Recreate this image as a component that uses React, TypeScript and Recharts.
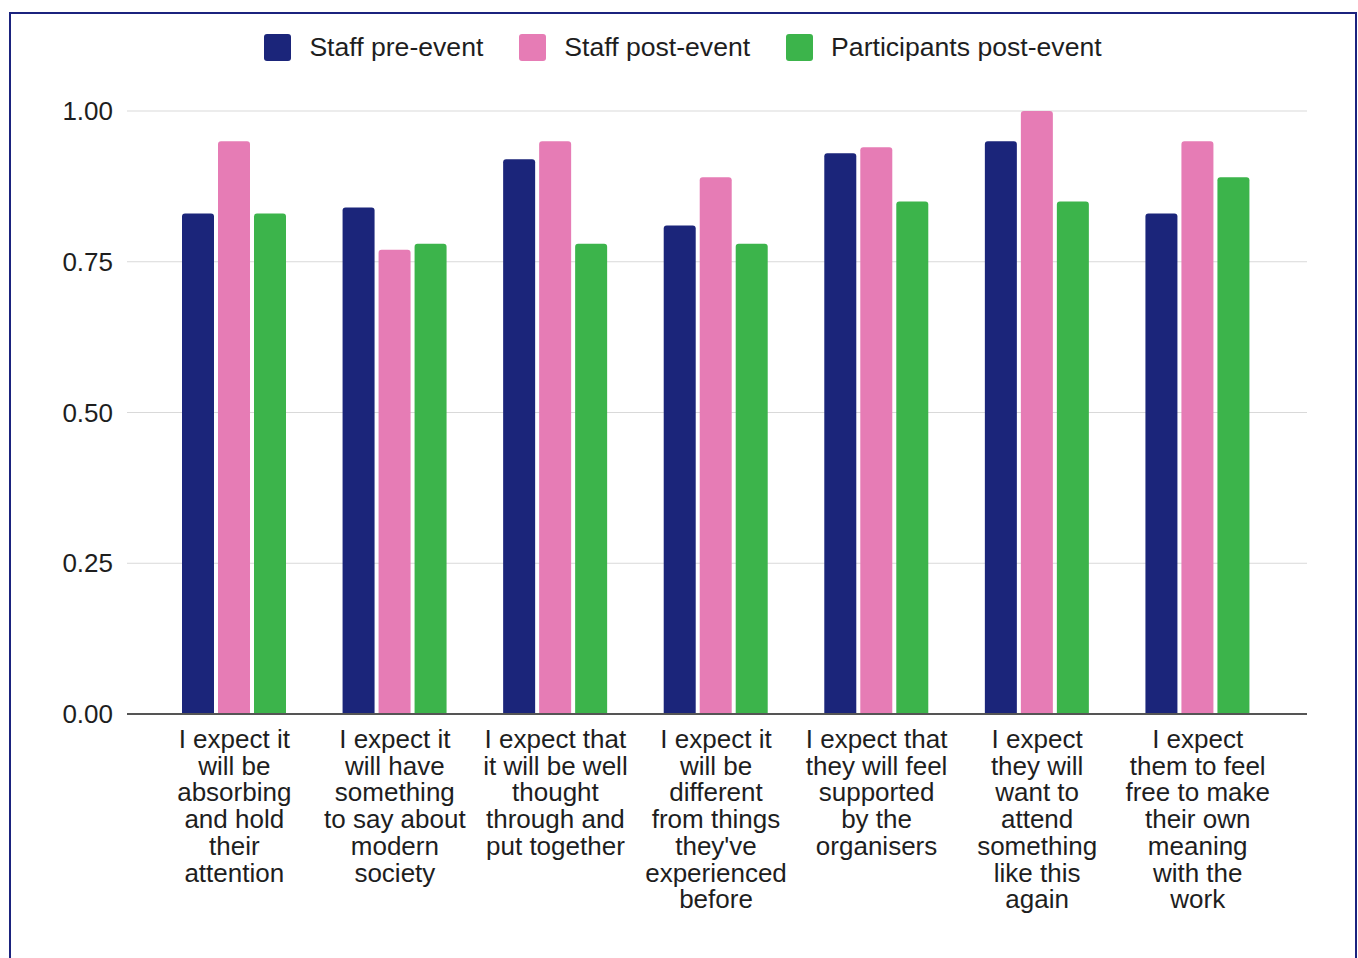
import { BarChart, Bar, XAxis, YAxis, CartesianGrid } from 'recharts';

const categories = [
  'I expect it\nwill be\nabsorbing\nand hold\ntheir\nattention',
  'I expect it\nwill have\nsomething\nto say about\nmodern\nsociety',
  'I expect that\nit will be well\nthought\nthrough and\nput together',
  "I expect it\nwill be\ndifferent\nfrom things\nthey've\nexperienced\nbefore",
  'I expect that\nthey will feel\nsupported\nby the\norganisers',
  'I expect\nthey will\nwant to\nattend\nsomething\nlike this\nagain',
  'I expect\nthem to feel\nfree to make\ntheir own\nmeaning\nwith the\nwork',
];
const staffPre = [0.83, 0.84, 0.92, 0.81, 0.93, 0.95, 0.83];
const staffPost = [0.95, 0.77, 0.95, 0.89, 0.94, 1.0, 0.95];
const participantsPost = [0.83, 0.78, 0.78, 0.78, 0.85, 0.85, 0.89];
const yTicks = [0, 0.25, 0.5, 0.75, 1];

const series = [
  { key: 'staffPre', name: 'Staff pre-event', color: '#1b257a' },
  { key: 'staffPost', name: 'Staff post-event', color: '#e67cb5' },
  { key: 'participantsPost', name: 'Participants post-event', color: '#3cb44b' },
];

const data = categories.map((c, i) => ({
  label: c,
  staffPre: staffPre[i],
  staffPost: staffPost[i],
  participantsPost: participantsPost[i],
}));

const FONT = '"Liberation Sans", Arial, sans-serif';

function XTick(props: any) {
  const { x, y, payload } = props;
  const lines = String(payload.value).split('\n');
  return (
    <text x={x} y={y + 34} textAnchor="middle" fill="#1e1e1e" fontSize={26} fontFamily={FONT}>
      {lines.map((l, i) => (
        <tspan key={i} x={x} dy={i === 0 ? 0 : 26.7}>{l}</tspan>
      ))}
    </text>
  );
}

export default function App() {
  return (
    <div style={{ position: 'absolute', left: 9, top: 12, width: 1348, height: 960, border: '2px solid #1b237e', boxSizing: 'border-box', background: '#fff' }}>
      <div style={{ position: 'absolute', left: 0, top: 19, width: 1344, height: 28, display: 'flex', justifyContent: 'center', alignItems: 'center', fontFamily: FONT, fontSize: 26.6, color: '#1e1e1e' }}>
        {series.map((s, i) => (
          <div key={s.key} style={{ display: 'flex', alignItems: 'center', marginLeft: i === 0 ? 0 : 36 }}>
            <div style={{ width: 27, height: 27, borderRadius: 3, background: s.color, marginRight: 18 }} />
            <span>{s.name}</span>
          </div>
        ))}
      </div>
      <BarChart
        width={1344}
        height={940}
        data={data}
        margin={{ top: 97, right: 48, left: 0, bottom: 0 }}
        barGap={4}
        barSize={32}
      >
        <CartesianGrid vertical={false} stroke="#d9d9d9" />
        <XAxis
          dataKey="label"
          interval={0}
          height={240}
          padding={{ left: 27, right: 29 }}
          tickLine={false}
          tickSize={0}
          tickMargin={0}
          axisLine={{ stroke: '#555', strokeWidth: 2 }}
          tick={<XTick />}
        />
        <YAxis
          domain={[0, 1]}
          ticks={yTicks}
          width={116}
          axisLine={false}
          tickLine={false}
          tickSize={0}
          tickMargin={14}
          tickFormatter={(v: number) => v.toFixed(2)}
          tick={{ fill: '#1e1e1e', fontSize: 26, fontFamily: FONT }}
        />
        {series.map((s) => (
          <Bar key={s.key} dataKey={s.key} name={s.name} fill={s.color} radius={[3, 3, 0, 0]} isAnimationActive={false} />
        ))}
      </BarChart>
    </div>
  );
}
